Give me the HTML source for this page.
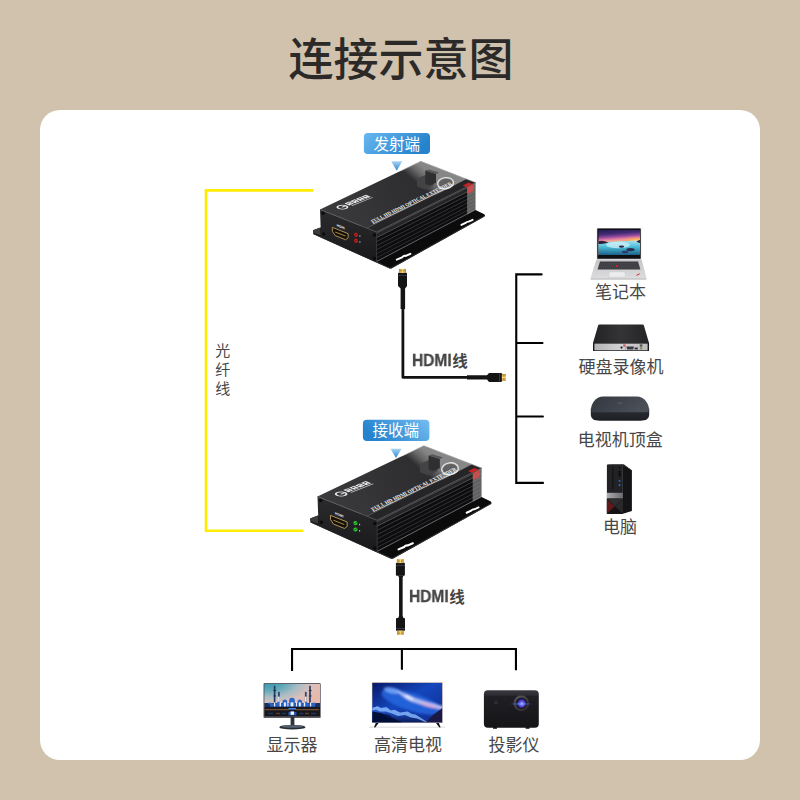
<!DOCTYPE html>
<html lang="zh-CN">
<head>
<meta charset="utf-8">
<title>连接示意图</title>
<style>
html,body{margin:0;padding:0}
body{width:800px;height:800px;position:relative;overflow:hidden;background:#d0c2ad;font-family:"Liberation Sans",sans-serif}
.panel{position:absolute;left:40px;top:110px;width:720px;height:650px;background:#fff;border-radius:20px}
.art{position:absolute;left:0;top:0;width:800px;height:800px;display:block}
.hdmi{position:absolute;font-family:"Liberation Sans",sans-serif;font-weight:bold;font-size:16px;line-height:16px;height:16px;color:#454545;white-space:nowrap;transform:scaleX(0.97);transform-origin:0 0;will-change:transform;-webkit-text-stroke:0.3px #454545}
</style>
</head>
<body>
<div class="panel"></div>
<svg class="art" viewBox="0 0 800 800" width="800" height="800">
<defs>
<linearGradient id="gTop" gradientUnits="userSpaceOnUse" x1="330" y1="225" x2="440" y2="170"><stop offset="0" stop-color="#3b3b3d"/><stop offset="0.6" stop-color="#303032"/><stop offset="1" stop-color="#2c2c2e"/></linearGradient>
<linearGradient id="gGhost" gradientUnits="userSpaceOnUse" x1="419" y1="185" x2="429.4" y2="172.8"><stop offset="0" stop-color="#7c7c7c" stop-opacity="0"/><stop offset="0.55" stop-color="#7e7e7e" stop-opacity="0.7"/><stop offset="1" stop-color="#8b8b8b" stop-opacity="0.95"/></linearGradient>
<linearGradient id="gFront" x1="0" y1="0" x2="0" y2="1"><stop offset="0" stop-color="#2b2b2d"/><stop offset="1" stop-color="#19191b"/></linearGradient>
<linearGradient id="gPill1" x1="0" y1="0" x2="1" y2="0.35"><stop offset="0" stop-color="#6ab8ef"/><stop offset="1" stop-color="#2583cd"/></linearGradient>
<linearGradient id="gPill2" x1="0" y1="0.35" x2="1" y2="0"><stop offset="0" stop-color="#2583cd"/><stop offset="1" stop-color="#74bdf1"/></linearGradient>
<linearGradient id="gTri" x1="0" y1="0" x2="0" y2="1"><stop offset="0" stop-color="#a9d5f5"/><stop offset="1" stop-color="#2b88d1"/></linearGradient>
<linearGradient id="gGold" x1="0" y1="0" x2="1" y2="0"><stop offset="0" stop-color="#b98a2e"/><stop offset="0.5" stop-color="#f3d477"/><stop offset="1" stop-color="#b98a2e"/></linearGradient>
<linearGradient id="gGoldV" x1="0" y1="0" x2="0" y2="1"><stop offset="0" stop-color="#b98a2e"/><stop offset="0.5" stop-color="#f3d477"/><stop offset="1" stop-color="#b98a2e"/></linearGradient>
<g id="dev">
<polygon points="313,230.3 320.4,227.4 330,232 470,207 475.5,210 484.3,214.3 485,215.6 484.6,216.6 391.5,268.4 389.6,268.6 313.4,234.2" fill="#0b0b0c"/>
<polygon points="313,230.3 320.4,227.4 320.8,235.6 313.5,232.8" fill="#3c3c3e"/>
<polyline points="313.4,233.6 389.8,268 391.3,267.9 484.6,216" fill="none" stroke="#3a3a3c" stroke-width="0.8"/>
<path d="M396.8 259.6L402 257.4Q403.6 255.6 405.6 255.9L410.4 253.8" stroke="#fff" stroke-width="2" stroke-linecap="round" fill="none"/>
<path d="M461.4 224.9L465.6 222.9Q467 221.4 468.8 221.6L472.6 219.8" stroke="#fff" stroke-width="1.9" stroke-linecap="round" fill="none"/>
<polygon points="376.5,232 475.5,182.5 475.5,210 376.5,262" fill="#0d0d0f"/>
<polygon points="376.5,232 475.5,182.5 475.5,187.72 376.5,237.7" fill="#242426"/>
<line x1="376.5" y1="233.2" x2="475.5" y2="183.6" stroke="#5e5e60" stroke-width="0.7"/>
<line x1="376.5" y1="237.7" x2="475.5" y2="187.725" stroke="#59595b" stroke-width="0.8"/>
<line x1="376.5" y1="241.6" x2="475.5" y2="191.3" stroke="#434345" stroke-width="0.8"/>
<line x1="376.5" y1="245.8" x2="475.5" y2="195.15" stroke="#3e3e40" stroke-width="0.8"/>
<line x1="376.5" y1="249.7" x2="475.5" y2="198.725" stroke="#3a3a3c" stroke-width="0.8"/>
<line x1="376.5" y1="253.9" x2="475.5" y2="202.575" stroke="#383839" stroke-width="0.8"/>
<line x1="376.5" y1="257.8" x2="475.5" y2="206.15" stroke="#363638" stroke-width="0.8"/>
<line x1="376.5" y1="261.55" x2="475.5" y2="209.588" stroke="#7a7a7c" stroke-width="0.8"/>
<polygon points="467.09,186.71 475.5,182.5 475.5,210 467.09,214.42" fill="#9a9a9a" opacity="0.6"/>
<polygon points="320,209.5 376.5,232 475.5,182.5 420.8,161.3" fill="url(#gTop)"/>
<polygon points="366.89,228.18 376.5,232 475.5,182.5 466.2,178.9" fill="#252527"/>
<line x1="366.895" y1="228.175" x2="466.201" y2="178.896" stroke="#59595b" stroke-width="0.7"/>
<polygon points="402,170.3 420.8,161.3 466.2,178.9 433,196.6" fill="url(#gGhost)"/>
<polyline points="400.64,170.94 420.8,161.3 475.5,182.5 475.5,210" fill="none" stroke="#c4c4c4" stroke-width="0.7" opacity="0.9"/>
<polygon points="417,178.6 425.5,175 433.6,178 433.6,185.5 425,189.5 417,186.5" fill="#434345" opacity="0.95"/>
<polygon points="425.3,170.6 436,174 436,182.8 429.5,185.4 425.3,184" fill="#2f2f31"/>
<polygon points="425.3,170.6 428.6,169.4 439,172.6 436,174" fill="#55555a"/>
<ellipse cx="445.6" cy="183.2" rx="8" ry="5.6" transform="rotate(-8 445.6 183.2)" fill="none" stroke="#e2e2e2" stroke-width="1.3"/>
<ellipse cx="445.6" cy="183.2" rx="6.6" ry="4.4" transform="rotate(-8 445.6 183.2)" fill="#3c3c3e" opacity="0.5"/>
<polygon points="462.8,185.4 468.6,182.4 473.4,184.4 467.4,187.6" fill="#cf1f1f"/>
<polygon points="467.4,187.6 473.4,184.4 473.6,191 467.6,194" fill="#d84a4a" opacity="0.85"/>
<g transform="matrix(0.7867 -0.3811 0.63 0.77 372.6 223.4)" fill="#f3f3f3"><text x="0.1" y="0" font-family="'Liberation Serif',serif" font-weight="bold" font-size="5.5" textLength="101.4" lengthAdjust="spacingAndGlyphs" fill="#f3f3f3">FULL HD HDMI OPTICAL EXTENDER</text><rect x="0" y="0.4" width="101.5" height="0.65"/></g>
<g transform="matrix(1.0 -0.4 1.0 0.4 342.4 207.1)" fill="#f6f6f6" opacity="0.93"><circle cx="0" cy="0" r="3.5" fill="none" stroke="#f6f6f6" stroke-width="1.5"/><rect x="-0.4" y="-0.6" width="3.6" height="1.3"/><path d="M5.6 -3.6h4.6v5h-4.6zM6.8 -2.4v1h2.2v-1zM7.6 0v0.6h1.4v-0.6z" fill-rule="evenodd"/><path d="M11.2 -3.6h4.6v5h-4.6zM12.4 -2.4v1h2.2v-1zM13.2 0v0.6h1.4v-0.6z" fill-rule="evenodd"/><path d="M16.8 -3.6h4.6v5h-4.6zM18 -2.4v1h2.2v-1zM18.8 0v0.6h1.4v-0.6z" fill-rule="evenodd"/><path d="M22.4 -3.6h4.6v5h-4.6zM23.6 -2.4v1h2.2v-1zM24.4 0v0.6h1.4v-0.6z" fill-rule="evenodd"/><rect x="6.4" y="2.5" width="21" height="1" opacity="0.75"/></g>
<polygon points="320,209.5 376.5,232 376.5,262 321,237" fill="url(#gFront)"/>
<polyline points="320,209.5 376.5,232 475.5,182.5" fill="none" stroke="#5c5c5e" stroke-width="0.8"/>
<line x1="376.5" y1="232" x2="376.5" y2="262" stroke="#3c3c3e" stroke-width="0.8"/>
<circle cx="323.1" cy="213.2" r="1.7" fill="#0b0b0c"/><circle cx="374.4" cy="235" r="1.7" fill="#0b0b0c"/><circle cx="323.6" cy="234" r="1.7" fill="#0b0b0c"/><circle cx="374.4" cy="258.4" r="1.7" fill="#0b0b0c"/>
<g transform="matrix(0.929 0.37 0.03 1 320 209.5)"><path d="M12.8 13.1H29.8V17.2L26.9 20.3H15.7L12.8 17.2Z" fill="#15100a" stroke="#b99a5c" stroke-width="0.85" stroke-linejoin="round"/><rect x="15.8" y="16.2" width="11" height="0.9" fill="#a98a4c"/><text x="17.6" y="10.3" font-family="'Liberation Sans',sans-serif" font-weight="bold" font-size="3.37" fill="#f2f2f2">HDMI</text></g>
</g>
<linearGradient id="lapSky" x1="0" y1="0" x2="0.12" y2="1"><stop offset="0" stop-color="#251c52"/><stop offset="0.18" stop-color="#3f2a72"/><stop offset="0.3" stop-color="#8a479a"/><stop offset="0.4" stop-color="#dd78a6"/><stop offset="0.47" stop-color="#f3a98f"/><stop offset="1" stop-color="#f3a98f"/></linearGradient><radialGradient id="lapSun" gradientUnits="userSpaceOnUse" cx="637" cy="240.5" r="16" gradientTransform="translate(0 180.4) scale(1 0.25)"><stop offset="0" stop-color="#ffd56a"/><stop offset="0.5" stop-color="#f9a45e" stop-opacity="0.8"/><stop offset="1" stop-color="#f08a70" stop-opacity="0"/></radialGradient>
<linearGradient id="lapSea" x1="0" y1="0" x2="0" y2="1"><stop offset="0" stop-color="#a7e4f2"/><stop offset="0.45" stop-color="#48bcd4"/><stop offset="1" stop-color="#1c5f8a"/></linearGradient>
<linearGradient id="lapDeck" x1="0" y1="0" x2="0" y2="1"><stop offset="0" stop-color="#c6c6c9"/><stop offset="1" stop-color="#dcdcdf"/></linearGradient>
<radialGradient id="monSky" gradientUnits="userSpaceOnUse" cx="268" cy="682" r="56" gradientTransform="translate(0 682) scale(1 0.48) translate(0 -682)"><stop offset="0" stop-color="#2f97ae"/><stop offset="0.3" stop-color="#5ea9b8"/><stop offset="0.55" stop-color="#a9bcc3"/><stop offset="0.8" stop-color="#dcc0bc"/><stop offset="1" stop-color="#e6b9aa"/></radialGradient>
<linearGradient id="tvSky" x1="0" y1="0" x2="1" y2="1"><stop offset="0" stop-color="#081868"/><stop offset="0.45" stop-color="#1446bc"/><stop offset="1" stop-color="#0f2a8e"/></linearGradient>
<linearGradient id="tvMilky" gradientUnits="userSpaceOnUse" x1="386" y1="686" x2="442" y2="708"><stop offset="0" stop-color="#8fb4ff" stop-opacity="0.15"/><stop offset="0.35" stop-color="#a9c0ff" stop-opacity="0.7"/><stop offset="0.7" stop-color="#c0b0ee" stop-opacity="0.65"/><stop offset="1" stop-color="#d0a8dc" stop-opacity="0.45"/></linearGradient>
<linearGradient id="tvMount" x1="0" y1="0" x2="0" y2="1"><stop offset="0" stop-color="#3a78e4"/><stop offset="0.45" stop-color="#1a48b4"/><stop offset="1" stop-color="#0a1a58"/></linearGradient>
<linearGradient id="prBody" x1="0" y1="0" x2="0" y2="1"><stop offset="0" stop-color="#3a3a40"/><stop offset="0.13" stop-color="#2c2c32"/><stop offset="0.16" stop-color="#202024"/><stop offset="1" stop-color="#151518"/></linearGradient>
<radialGradient id="prRing" cx="0.4" cy="0.35" r="0.75"><stop offset="0" stop-color="#6a6a70"/><stop offset="1" stop-color="#222226"/></radialGradient>
<radialGradient id="prLens" cx="0.55" cy="0.55" r="0.6"><stop offset="0" stop-color="#eef2ff"/><stop offset="0.3" stop-color="#7b6cf0"/><stop offset="0.75" stop-color="#35249a"/><stop offset="1" stop-color="#15103a"/></radialGradient>
<linearGradient id="prFlare" x1="0" y1="0" x2="1" y2="0"><stop offset="0" stop-color="#2a55ff" stop-opacity="0"/><stop offset="0.5" stop-color="#6f9bff" stop-opacity="1"/><stop offset="1" stop-color="#2a55ff" stop-opacity="0"/></linearGradient>
<linearGradient id="boxTop" x1="0" y1="0" x2="1" y2="0.3"><stop offset="0" stop-color="#33373e"/><stop offset="1" stop-color="#4a4f58"/></linearGradient>
<linearGradient id="boxFront" x1="0" y1="0" x2="0" y2="1"><stop offset="0" stop-color="#2b2e35"/><stop offset="1" stop-color="#1d1f24"/></linearGradient>
<linearGradient id="dvrTop" x1="0" y1="0" x2="1" y2="0"><stop offset="0" stop-color="#232325"/><stop offset="0.5" stop-color="#343436"/><stop offset="1" stop-color="#242426"/></linearGradient>
<linearGradient id="dvrPanel" x1="0" y1="0" x2="1" y2="0"><stop offset="0" stop-color="#b4b4b7"/><stop offset="0.5" stop-color="#d2d2d5"/><stop offset="1" stop-color="#bcbcbf"/></linearGradient>
<linearGradient id="pcBand" x1="0" y1="0" x2="1" y2="0"><stop offset="0" stop-color="#adadb1"/><stop offset="1" stop-color="#6c6c70"/></linearGradient>
</defs>
<g id="title"><text x="401" y="75.5" text-anchor="middle" font-family="'Liberation Sans','Noto Sans CJK SC',sans-serif" font-size="45" font-weight="500" fill="#2c2a29">连接示意图</text></g>
<g id="lines" fill="none" stroke-linejoin="miter">
<path d="M313.5 190.4H206V530.7H303.4" stroke="#ffec00" stroke-width="2.6"/>
<path d="M541.6 274.4H516.25V482.9H543M516.25 343H542.5M516.25 416.45H542.9" stroke="#000" stroke-width="2.1" stroke-linecap="round"/>
<path d="M292.05 670.9V648.95H515.95V670.2M401.9 648.95V669.8" stroke="#000" stroke-width="2.1"/>
</g>
<g id="devices">
<use href="#dev"/>
<g><circle cx="356" cy="234.7" r="1.95" fill="#d92323"/><path d="M354.3 235.6L357.7 233.8" stroke="#4a0b0b" stroke-width="0.8"/><rect x="359.4" y="235.4" width="1" height="1.3" fill="#cfcfcf"/><circle cx="356" cy="240.7" r="1.95" fill="#d92323"/><path d="M354.3 241.6L357.7 239.8" stroke="#4a0b0b" stroke-width="0.8"/><rect x="359.4" y="241.4" width="1" height="1.3" fill="#cfcfcf"/>
</g>
<g transform="matrix(1.055 0 0 1.055 -20.1 275.5)"><use href="#dev"/><circle cx="356" cy="234.7" r="1.95" fill="#2fd236"/><path d="M354.3 235.6L357.7 233.8" stroke="#0f5a14" stroke-width="0.8"/><rect x="359.4" y="235.4" width="1" height="1.3" fill="#cfcfcf"/><circle cx="356" cy="240.7" r="1.95" fill="#2fd236"/><path d="M354.3 241.6L357.7 239.8" stroke="#0f5a14" stroke-width="0.8"/><rect x="359.4" y="241.4" width="1" height="1.3" fill="#cfcfcf"/>
</g>
</g>
<g id="pills">
<rect x="363.9" y="132.9" width="66.1" height="21.1" rx="3.8" fill="url(#gPill1)"/>
<text x="396.7" y="149.5" text-anchor="middle" font-family="'Liberation Sans','Noto Sans CJK SC',sans-serif" font-size="15.5" fill="#fff">发射端</text>
<polygon points="391.2,161.2 402.3,161.2 396.7,170.8" fill="url(#gTri)"/>
<rect x="362.9" y="419.8" width="66.5" height="21.3" rx="4" fill="url(#gPill2)"/>
<text x="395.8" y="436.3" text-anchor="middle" font-family="'Liberation Sans','Noto Sans CJK SC',sans-serif" font-size="15.5" fill="#fff">接收端</text>
<polygon points="390.5,448.7 401.6,448.7 396,457.9" fill="url(#gTri)"/>
</g>
<g id="cables">
<path d="M402.9 286V377.3H470" fill="none" stroke="#121212" stroke-width="2.8" stroke-linejoin="round"/>
<path d="M400.6 309V288.4L398 286V273.6Q398 272.8 398.8 272.8H406.2Q407 272.8 407 273.6V286L405.1 288.4V309Z" fill="#141414"/>
<rect x="398" y="274.9" width="9" height="0.6" fill="#4d5566"/>
<rect x="398.9" y="268.9" width="7.1" height="4.1" fill="url(#gGold)"/>
<rect x="400.6" y="270.2" width="1.2" height="1" fill="#a07420"/><rect x="403.2" y="270.2" width="1.2" height="1" fill="#a07420"/>
<path d="M467 375.3H487L489 373.1H501.2Q502 373.1 502 373.9V381.1Q502 381.9 501.2 381.9H489L487 379.6H467Z" fill="#141414"/>
<rect x="499.4" y="373.1" width="0.6" height="8.8" fill="#4d5566"/>
<rect x="501.8" y="374" width="4.1" height="6.8" fill="url(#gGoldV)"/>
<rect x="503.4" y="375.4" width="1" height="1.1" fill="#a07420"/><rect x="503.4" y="378.2" width="1" height="1.1" fill="#a07420"/>
<path d="M399.05 577.6L398 575.4H403.6L402.65 577.6V616L403.6 618.2H398L399.05 616Z" fill="#141414"/>
<rect x="395.9" y="562.8" width="9" height="12.9" rx="0.9" fill="#141414"/>
<rect x="396" y="565" width="9" height="0.6" fill="#4d5566"/>
<rect x="396.9" y="559.1" width="6.9" height="4" fill="url(#gGold)"/>
<rect x="398.5" y="560.6" width="1.1" height="1" fill="#a07420"/><rect x="401" y="560.6" width="1.1" height="1" fill="#a07420"/>
<rect x="396" y="617.9" width="9" height="12.9" rx="0.9" fill="#141414"/>
<rect x="396" y="628.4" width="9" height="0.6" fill="#4d5566"/>
<rect x="397" y="630.6" width="6.8" height="4.3" fill="url(#gGold)"/>
<rect x="398.6" y="632.6" width="1.1" height="1" fill="#a07420"/><rect x="401.1" y="632.6" width="1.1" height="1" fill="#a07420"/>
</g>
<g id="laptop">
<rect x="596.8" y="228" width="44.4" height="31.6" rx="0.8" fill="#c9c9cc"/>
<rect x="597.3" y="228.5" width="43.4" height="30.2" rx="0.5" fill="#101014"/>
<rect x="598.5" y="230" width="41.5" height="25" fill="url(#lapSky)"/>
<rect x="612" y="235" width="28" height="7" fill="url(#lapSun)"/>
<path d="M598.5 242.4L612 241.8L640 240.6V255H598.5Z" fill="url(#lapSea)"/>
<ellipse cx="618" cy="245" rx="12" ry="3.2" fill="#d8f4fb" opacity="0.7"/>
<path d="M598.5 241.2Q603 240 608.5 242.6Q604 244.4 598.5 244Z" fill="#2a1f3e"/>
<ellipse cx="621.5" cy="246.6" rx="2.6" ry="1.2" fill="#2c2746"/>
<ellipse cx="630.5" cy="249.6" rx="4.2" ry="1.6" fill="#2a2a4c"/>
<ellipse cx="625" cy="252" rx="3.2" ry="1.2" fill="#30386a"/>
<path d="M636.5 241.6Q638.6 239.6 640 240V243Q638 243.2 636.5 241.6Z" fill="#3a2540"/>
<polygon points="596.4,259.6 641.6,259.6 646.6,278.4 590.4,278.4" fill="url(#lapDeck)"/>
<polygon points="590.4,278.4 646.6,278.4 646.2,279.5 590.8,279.5" fill="#a9a9ad"/>
<polygon points="600,261.6 638,261.6 640.4,269.6 597.6,269.6" fill="#38383d"/>
<g stroke="#77777e" stroke-width="0.5" stroke-dasharray="1.1 0.7" opacity="0.9"><line x1="599.02" y1="263.2" x2="638.98" y2="263.2"/><line x1="598.51" y1="264.9" x2="639.49" y2="264.9"/><line x1="598" y1="266.6" x2="640" y2="266.6"/><line x1="597.52" y1="268.2" x2="640.48" y2="268.2"/></g>
<circle cx="616.6" cy="266" r="0.9" fill="#e02a2a"/>
<polygon points="609.4,271.8 624.8,271.8 625.6,277.2 608.6,277.2" fill="#ececee" stroke="#c4c4c8" stroke-width="0.4"/>
<path d="M636.4 275.4l3.4 -1.6" stroke="#d43030" stroke-width="1"/>
</g>
<g id="dvr">
<path d="M599.4 324.4H642.6Q643.6 324.4 643.9 325.4L649 343H593L598.1 325.4Q598.4 324.4 599.4 324.4Z" fill="url(#dvrTop)"/>
<rect x="593" y="343" width="56" height="8" fill="#19191b"/>
<rect x="594.4" y="343.6" width="53.2" height="6.7" fill="url(#dvrPanel)"/>
<circle cx="621.5" cy="347.6" r="1.1" fill="#1a1a1c"/>
<rect x="623.4" y="344.4" width="1.4" height="2.4" fill="#d43a3a"/>
<rect x="625" y="343.6" width="0.5" height="6.7" fill="#88888c"/>
<path d="M626.4 346.6H634L633.2 349.4H627.2Z" fill="#3a3a40"/>
<rect x="634.6" y="347.6" width="3.2" height="1.8" fill="#2a2a2e"/>
<rect x="639.8" y="344.4" width="2.6" height="2.2" fill="#55524a"/><rect x="639.8" y="347.2" width="2.6" height="2.2" fill="#8a8468"/>
</g>
<g id="tvbox">
<path d="M590.8 408.5V414C590.8 419 594 420.7 599.5 420.7H640.5C646 420.7 649.2 419 649.2 414V408.5Z" fill="url(#boxFront)"/>
<path d="M590.9 409.4C591.4 404 595 396.5 603.5 396.5H636.5C645 396.5 648.6 404 649.1 409.4C649.2 411.6 647.4 412.2 645 412.2H595C592.6 412.2 590.8 411.6 590.9 409.4Z" fill="url(#boxTop)"/>
<rect x="617.4" y="402.6" width="4.6" height="1" fill="#5b616c"/>
</g>
<g id="pc">
<polygon points="622.9,464.8 631.9,470.2 631.9,511 622.9,513.8" fill="#141416"/>
<polygon points="606.9,464.8 608,464.2 623.8,464.2 631.9,470.2 622.9,465.4" fill="#2c2c2f"/>
<rect x="606.9" y="464.8" width="16" height="49" fill="#222224"/>
<rect x="612.4" y="466.8" width="0.9" height="22.5" fill="#0e0e10"/>
<rect x="618.6" y="471" width="1.8" height="5.6" fill="#0c0c0e"/>
<circle cx="619.4" cy="467.8" r="0.9" fill="#0c0c0e"/>
<rect x="618.7" y="480.2" width="1.7" height="1.5" fill="#2f78e0"/><rect x="618.7" y="484.4" width="1.7" height="1.5" fill="#2f78e0"/>
<rect x="606.9" y="492.8" width="16" height="5.8" fill="url(#pcBand)"/>
<rect x="606.9" y="498.6" width="16" height="15.2" fill="#1c1c1e"/>
<polygon points="606.9,499.4 614.8,506.4 606.9,513.2" fill="#611818"/>
<polygon points="607.6,498.8 622.9,498.8 614.8,506.2" fill="#2e2e31"/>
<polygon points="622.9,499.5 622.9,513.6 615,506.4" fill="#29292c"/>
<polygon points="607.5,513.8 622.5,513.8 614.9,506.8" fill="#131315"/>
</g>
<g id="monitor">
<rect x="290.6" y="717" width="3.8" height="9.6" fill="#2c333d"/>
<ellipse cx="292.4" cy="727.2" rx="13" ry="2.3" fill="#252b33"/>
<ellipse cx="292.4" cy="726.5" rx="11" ry="1.3" fill="#566272"/>
<rect x="263.6" y="683.3" width="57" height="34.5" rx="0.6" fill="#2a3039"/>
<rect x="264.3" y="684" width="55.7" height="32.6" fill="url(#monSky)"/>
<rect x="264.3" y="706.8" width="55.7" height="9.8" fill="#17171e"/>
<rect x="273.8" y="685.8" width="1.6" height="18" fill="#22365c"/><rect x="273.4" y="690" width="2.8" height="0.9" fill="#1d2c4c"/><rect x="273.4" y="695.5" width="2.8" height="0.9" fill="#1d2c4c"/><rect x="309.2" y="685.8" width="1.6" height="18" fill="#22365c"/><rect x="308.8" y="690" width="2.8" height="0.9" fill="#1d2c4c"/><rect x="308.8" y="695.5" width="2.8" height="0.9" fill="#1d2c4c"/><rect x="278" y="691.9" width="1.8" height="11.5" fill="#32486e"/><rect x="278.15" y="696.6" width="1.5" height="6.4" fill="#f0f5ff"/><rect x="304.9" y="691.9" width="1.8" height="11.5" fill="#32486e"/><rect x="305.05" y="696.6" width="1.5" height="6.4" fill="#f0f5ff"/>
<rect x="264.3" y="703" width="55.7" height="4" fill="#1a2f5c"/>
<rect x="270" y="703.4" width="45" height="3.2" fill="#2a62c4"/>
<path d="M289.1 704.2V701.135A2.9 3.335 0 0 1 294.9 701.135V704.2Z" fill="#2c66c6"/><path d="M282.5 704.2V702.16A2.4 2.76 0 0 1 287.3 702.16V704.2Z" fill="#2c66c6"/><path d="M297.5 704.2V702.045A2.3 2.645 0 0 1 302.1 702.045V704.2Z" fill="#2c66c6"/><path d="M277.1 704.2V703.125A1.5 1.725 0 0 1 280.1 703.125V704.2Z" fill="#2c66c6"/><path d="M304.3 704.2V703.125A1.5 1.725 0 0 1 307.3 703.125V704.2Z" fill="#2c66c6"/><path d="M268 704.2V704.9A2 2.3 0 0 1 272 704.9V704.2Z" fill="#2c66c6"/><path d="M312 704.2V704.9A2 2.3 0 0 1 316 704.9V704.2Z" fill="#2c66c6"/>
<rect x="290.6" y="702.4" width="2.8" height="4" fill="#f3f7ff" opacity="0.95"/><rect x="283.9" y="702.4" width="2" height="4" fill="#f3f7ff" opacity="0.95"/><rect x="298.8" y="702.4" width="2" height="4" fill="#f3f7ff" opacity="0.95"/><rect x="274" y="702.4" width="1.2" height="4" fill="#f3f7ff" opacity="0.95"/><rect x="310" y="702.4" width="1.2" height="4" fill="#f3f7ff" opacity="0.95"/><rect x="287.4" y="702.4" width="1" height="4" fill="#f3f7ff" opacity="0.95"/><rect x="296" y="702.4" width="1" height="4" fill="#f3f7ff" opacity="0.95"/><rect x="279.6" y="702.4" width="1.4" height="4" fill="#f3f7ff" opacity="0.95"/><rect x="303.8" y="702.4" width="1.4" height="4" fill="#f3f7ff" opacity="0.95"/>
<rect x="265" y="709.2" width="24" height="1" fill="#d98a4a" opacity="0.6"/><rect x="296" y="709.2" width="23" height="1" fill="#d98a4a" opacity="0.6"/>
<rect x="288.6" y="708" width="7.4" height="1.6" fill="#3f86e8"/>
<rect x="288.4" y="711.8" width="8" height="3.6" fill="#2458b4"/><rect x="290.6" y="711.4" width="3.4" height="3.4" fill="#f1f6ff"/>
<rect x="268" y="712.8" width="5" height="1.4" fill="#2a66cc" opacity="0.4"/><rect x="276" y="712.8" width="4" height="1.4" fill="#c87a40" opacity="0.4"/><rect x="282" y="712.8" width="4" height="1.4" fill="#2a66cc" opacity="0.4"/><rect x="299.4" y="712.8" width="4" height="1.4" fill="#2a66cc" opacity="0.4"/><rect x="305" y="712.8" width="4" height="1.4" fill="#c87a40" opacity="0.4"/><rect x="311" y="712.8" width="5" height="1.4" fill="#2a66cc" opacity="0.4"/>
</g>
<g id="tv">
<rect x="369" y="726.6" width="76" height="1.2" fill="#e2e2e4"/>
<path d="M376 722.6L379 722.6L375.2 727.4L374 727.2Z" fill="#111"/><path d="M435.6 722.6L438.6 722.6L440.6 727.2L439.4 727.4Z" fill="#111"/>
<rect x="371.8" y="682.3" width="70.9" height="40.7" fill="#e6c9ad"/>
<rect x="372.3" y="682.8" width="69.9" height="39.6" fill="url(#tvSky)"/>
<clipPath id="tvClip"><rect x="372.3" y="682.8" width="69.9" height="39.6"/></clipPath>
<filter id="tvBlur" x="-20%" y="-20%" width="140%" height="140%"><feGaussianBlur stdDeviation="1.2"/></filter>
<filter id="tvBlur2" x="-20%" y="-20%" width="140%" height="140%"><feGaussianBlur stdDeviation="0.45"/></filter>
<g clip-path="url(#tvClip)"><g filter="url(#tvBlur)"><ellipse cx="412" cy="702" rx="32" ry="9" fill="#2466de" opacity="0.85" transform="rotate(17 412 702)"/><ellipse cx="392" cy="690.5" rx="8.5" ry="3" fill="#7fb0ff" opacity="0.75" transform="rotate(12 392 690.5)"/><path d="M396 690Q404 693 412 697Q426 702 443 706V710Q426 707 411 701.6Q402 697 396 690Z" fill="#c3cdfb" opacity="0.85"/><ellipse cx="429" cy="705.4" rx="10" ry="1.8" fill="#e2a8d8" opacity="0.7" transform="rotate(15 429 705.4)"/><ellipse cx="409" cy="697.4" rx="5" ry="1.5" fill="#eef2ff" opacity="0.8" transform="rotate(25 409 697.4)"/></g><path d="M372.2 708L377.5 706.2L381 708L386.5 707.2L391 710.4L394.5 709.8L400 712.4L407.5 711.4L412 714L415.5 714.4L421 718L428 722.6H372.2Z" fill="url(#tvMount)"/><path d="M372.2 708L377.5 706.2L381 708L386.5 707.2L391 710.4L394.5 709.8L400 712.4L407.5 711.4L412 714L415.5 714.4L421 718L428 722.6L424 721.4L417 718.6L411 717.4L405 715L398 716L392 713.4L386 711.6L380 711.4L376 709.4L372.2 710.4Z" fill="#8dbbff" opacity="0.8" filter="url(#tvBlur2)"/><path d="M372.2 711.4L381 713L392 717.6L402 722.6H372.2Z" fill="#060d33" opacity="0.95" filter="url(#tvBlur2)"/><path d="M384 713.4L390 715L394 719L388 717.4Z" fill="#0a1a55" opacity="0.8"/><path d="M426 722.6L433 715L442.4 708V722.6Z" fill="#1b1944"/></g>
</g>
<g id="projector">
<rect x="493" y="727" width="4" height="1.8" rx="0.6" fill="#0c0c0e"/><rect x="525.6" y="727" width="4" height="1.8" rx="0.6" fill="#0c0c0e"/>
<rect x="483.9" y="690.3" width="54.9" height="37.5" rx="4" fill="url(#prBody)"/>
<circle cx="496" cy="702.6" r="2" fill="#2c2c32"/>
<circle cx="521.4" cy="703.3" r="8" fill="url(#prRing)"/>
<circle cx="521.4" cy="703.3" r="5.8" fill="#18181c"/>
<circle cx="521.4" cy="703.3" r="4.6" fill="url(#prLens)"/>
<rect x="509.5" y="703.3" width="23" height="1.3" fill="url(#prFlare)"/>
</g>
<g id="labels" font-family="'Liberation Sans','Noto Sans CJK SC',sans-serif" fill="#474747">
<text x="620.5" y="298.4" text-anchor="middle" font-size="17">笔记本</text>
<text x="620.9" y="373.3" text-anchor="middle" font-size="17">硬盘录像机</text>
<text x="620.3" y="445.6" text-anchor="middle" font-size="17">电视机顶盒</text>
<text x="620" y="533.1" text-anchor="middle" font-size="17">电脑</text>
<text x="291.9" y="750.9" text-anchor="middle" font-size="17">显示器</text>
<text x="408.1" y="751.4" text-anchor="middle" font-size="17">高清电视</text>
<text x="514.1" y="751.4" text-anchor="middle" font-size="17">投影仪</text>
<text x="222.8" y="355.8" text-anchor="middle" font-size="15">光</text>
<text x="222.8" y="374.6" text-anchor="middle" font-size="15">纤</text>
<text x="222.8" y="393.6" text-anchor="middle" font-size="15">线</text>
<text x="460.1" y="366.9" text-anchor="middle" font-size="15.5" font-weight="bold" fill="#454545">线</text>
<text x="457" y="602.7" text-anchor="middle" font-size="15.5" font-weight="bold" fill="#454545">线</text>
</g>
</svg>
<div class="hdmi" style="left:411.9px;top:353.4px">HDMI</div>
<div class="hdmi" style="left:408.9px;top:588.7px">HDMI</div>
</body>
</html>
